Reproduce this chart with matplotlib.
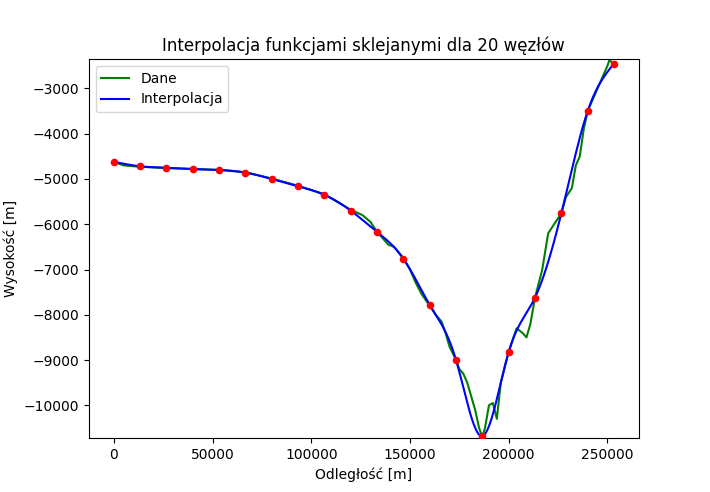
import matplotlib
matplotlib.use('Agg')
import matplotlib.pyplot as plt
import numpy as np

# węzły interpolacji
xn = [0, 13330, 26660, 40000, 53330, 66660, 80000, 93330, 106660, 120000,
      133330, 146660, 160000, 173330, 186660, 200000, 213330, 226660, 240000, 253330]
yn = [-4620, -4720, -4750, -4780, -4800, -4860, -5000, -5160, -5350, -5700,
      -6170, -6760, -7780, -9000, -10680, -8820, -7620, -5760, -3500, -2450]

xd = [0, 5000, 13330, 26660, 40000, 53330, 66660, 80000, 93330, 106660, 113000, 120000,
      126000, 130000, 133330, 136000, 139000, 142000, 146660, 150000, 153000, 156000,
      160000, 163000, 166000, 168000, 170000, 173330, 175000, 177000, 179000, 181000,
      183000, 185000, 186660, 188000, 190000, 192000, 194000, 196000, 200000, 204000,
      207000, 209000, 211000, 213330, 217000, 220000, 223000, 226660, 229000, 232000,
      234000, 236000, 238000, 240000, 242000, 245000, 248000, 250000, 251000, 253330]
yd = [-4620, -4700, -4730, -4760, -4780, -4800, -4850, -4990, -5150, -5340, -5500, -5680,
      -5800, -5950, -6170, -6300, -6450, -6500, -6760, -7000, -7300, -7550,
      -7800, -8000, -8150, -8400, -8700, -9000, -9200, -9300, -9500, -9800,
      -10100, -10500, -10700, -10500, -10000, -9950, -10300, -9500, -8820, -8300,
      -8400, -8500, -8200, -7620, -7000, -6200, -6000, -5760, -5400, -5200,
      -4700, -4500, -3900, -3500, -3300, -3000, -2700, -2500, -2380, -2450]

# naturalny splajn sześcienny
x = np.array(xn, float); y = np.array(yn, float)
n = len(x) - 1
h = np.diff(x)
A = np.zeros((n + 1, n + 1)); b = np.zeros(n + 1)
A[0, 0] = A[n, n] = 1
for i in range(1, n):
    A[i, i - 1] = h[i - 1]; A[i, i] = 2 * (h[i - 1] + h[i]); A[i, i + 1] = h[i]
    b[i] = 6 * ((y[i + 1] - y[i]) / h[i] - (y[i] - y[i - 1]) / h[i - 1])
M = np.linalg.solve(A, b)
xs = np.linspace(x[0], x[-1], 1000)
idx = np.clip(np.searchsorted(x, xs) - 1, 0, n - 1)
t0 = xs - x[idx]; t1 = x[idx + 1] - xs; hh = h[idx]
ys = (M[idx] * t1**3 + M[idx + 1] * t0**3) / (6 * hh) + \
     (y[idx] / hh - M[idx] * hh / 6) * t1 + (y[idx + 1] / hh - M[idx + 1] * hh / 6) * t0

plt.figure(figsize=(7.1, 4.92), dpi=100)
plt.plot(xd, yd, color='green', label='Dane')
plt.plot(xs, ys, color='blue', label='Interpolacja')
plt.scatter(xn, yn, color='red', s=20, zorder=3)
plt.xlim(-12700, 266000)
plt.ylim(-10720, -2350)
plt.title('Interpolacja funkcjami sklejanymi dla 20 węzłów')
plt.xlabel('Odległość [m]')
plt.ylabel('Wysokość [m]')
plt.legend(loc='upper left')
plt.savefig('out.png')
